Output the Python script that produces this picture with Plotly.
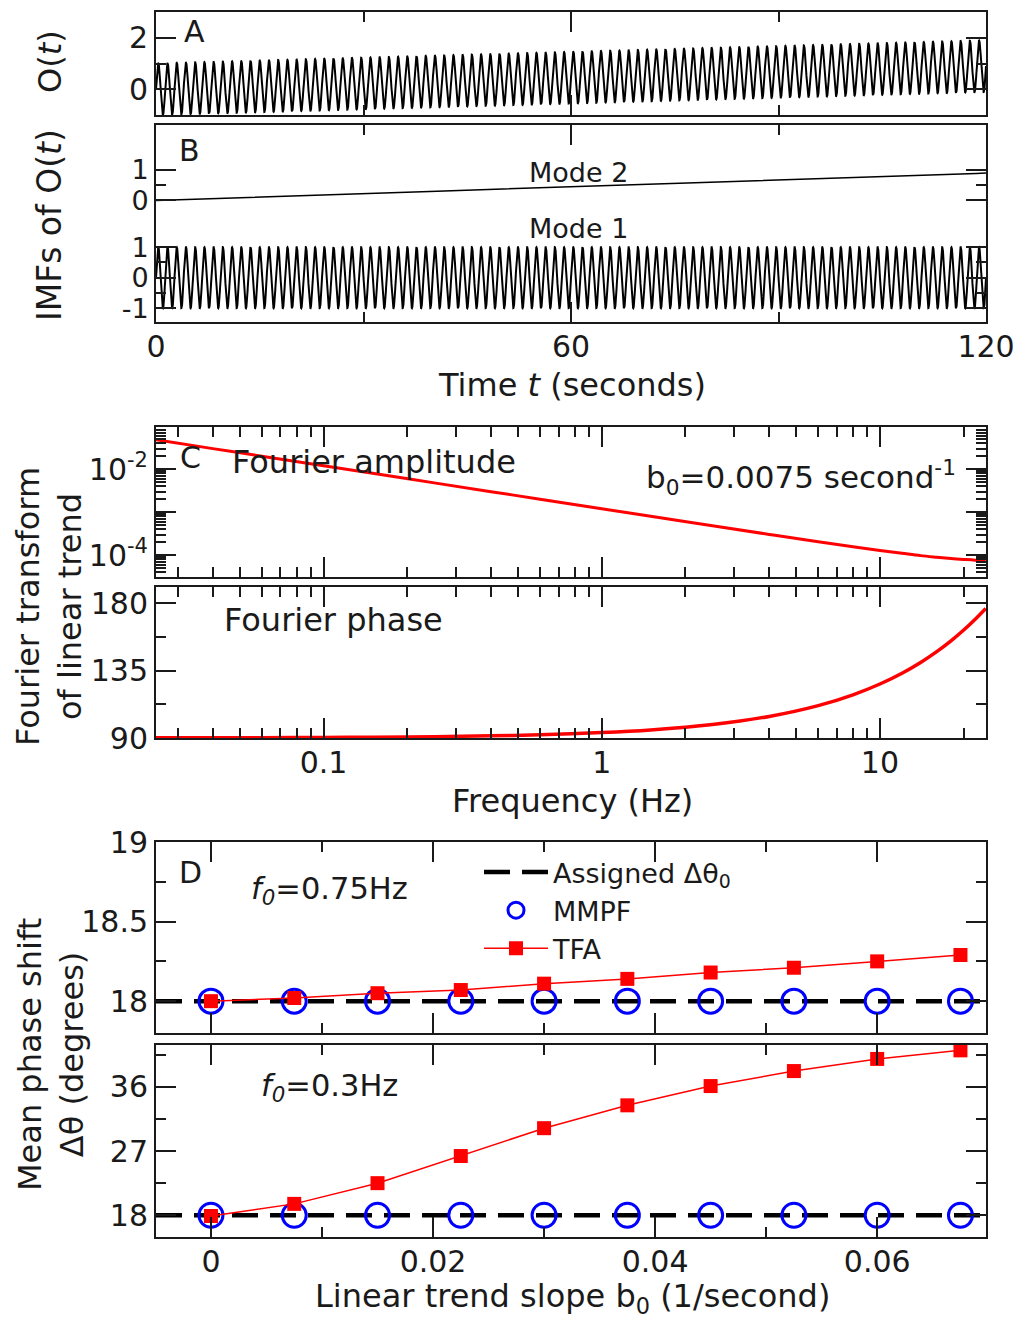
import numpy as np
import plotly.graph_objects as go

# ---------------- data ----------------
# Panels A/B : test signal O(t) = Mode 1 (sinusoid) + Mode 2 (linear trend)
DURATION_S = 120.0
SAMPLE_RATE_HZ = 50.0
MODE1_FREQ_HZ = 0.75
MODE1_AMPLITUDE = 1.0
TREND_SLOPE = 0.0075          # b0, 1/second

# Panel C : Fourier transform of the linear trend
FREQ_HZ = [0.025, 0.04, 0.06, 0.1, 0.15, 0.25, 0.4, 0.6, 1.0, 1.5, 2.5, 4.0,
           6.0, 8.0, 10.0, 12.0, 14.0, 16.0, 18.0, 20.0, 22.0, 24.0]
FOURIER_AMPLITUDE = [0.0477, 0.0298, 0.0199, 0.0119, 0.00796, 0.00477, 0.00298,
                     0.00199, 0.00119, 0.000797, 0.000479, 0.000302, 0.000204,
                     0.000156, 0.000128, 0.000110, 9.7e-5, 8.9e-5, 8.3e-5,
                     7.9e-5, 7.6e-5, 7.5e-5]
FOURIER_PHASE_DEG = [90.09, 90.14, 90.22, 90.36, 90.54, 90.9, 91.44, 92.16, 93.6,
                     95.4, 99.0, 104.4, 111.6, 118.8, 126.0, 133.2, 140.4, 147.6,
                     154.8, 162.0, 169.2, 176.4]

# Panel D : mean phase shift vs trend slope
SLOPES = [0.0, 0.0075, 0.015, 0.0225, 0.03, 0.0375, 0.045, 0.0525, 0.06, 0.0675]
ASSIGNED_DTHETA = 18.0
MMPF_F075 = [18.0, 18.0, 18.0, 18.0, 18.0, 18.0, 18.0, 18.0, 18.0, 18.0]
TFA_F075 = [18.0, 18.02, 18.05, 18.07, 18.11, 18.14, 18.18, 18.21, 18.25, 18.29]
MMPF_F03 = [18.0, 18.0, 18.0, 18.0, 18.0, 18.0, 18.0, 18.0, 18.0, 18.0]
TFA_F03 = [17.9, 19.6, 22.5, 26.3, 30.2, 33.4, 36.1, 38.2, 39.9, 41.1]

# tick labels
TIME_TICKS = [0, 60, 120]
TIME_TICK_TEXT = ["0", "60", "120"]
FREQ_TICKS = [0.1, 1, 10]
FREQ_TICK_TEXT = ["0.1", "1", "10"]
SLOPE_TICKS = [0, 0.02, 0.04, 0.06]
SLOPE_TICK_TEXT = ["0", "0.02", "0.04", "0.06"]

# ---------------- layout helpers ----------------
W, H = 1023, 1323
FONT = "DejaVu Sans"
INK = "#1a1a1a"
X0, X1 = 156, 986
MODE2_OFFSET = 2.54   # vertical offset of Mode 2 in panel B
XSTAND = -3
YSTAND = 0


def px(p):
    return p / W


def py(p):
    return 1 - p / H


def axis(**kw):
    base = dict(showline=True, linecolor=INK, linewidth=2, mirror="allticks",
                ticks="inside", ticklen=20, tickwidth=1.5, tickcolor=INK,
                showgrid=False, zeroline=False, automargin=False,
                tickfont=dict(size=30, family=FONT, color=INK))
    base.update(kw)
    return base


def minor(vals, length=10):
    return dict(ticks="inside", ticklen=length, tickwidth=1.5, tickcolor=INK,
                tickmode="array", tickvals=vals, showgrid=False)


# signal samples
t = np.arange(0.0, DURATION_S + 0.5 / SAMPLE_RATE_HZ, 1.0 / SAMPLE_RATE_HZ)
mode1 = MODE1_AMPLITUDE * np.sin(2 * np.pi * MODE1_FREQ_HZ * t)
mode2 = TREND_SLOPE * t
signal = mode1 + mode2

fig = go.Figure()

# Panel A
fig.add_trace(go.Scatter(x=t, y=signal, mode="lines", line=dict(color="black", width=2),
                         showlegend=False, xaxis="x", yaxis="y"))
# Panel B
fig.add_trace(go.Scatter(x=t, y=mode2 + MODE2_OFFSET, mode="lines",
                         line=dict(color="black", width=1.5),
                         showlegend=False, xaxis="x2", yaxis="y2"))
fig.add_trace(go.Scatter(x=t, y=mode1, mode="lines", line=dict(color="black", width=2),
                         showlegend=False, xaxis="x2", yaxis="y2"))
# Panel C amplitude
fig.add_trace(go.Scatter(x=FREQ_HZ, y=FOURIER_AMPLITUDE, mode="lines",
                         line=dict(color="#ff0000", width=3, shape="spline"),
                         showlegend=False, xaxis="x3", yaxis="y3"))
# Panel C phase
fig.add_trace(go.Scatter(x=FREQ_HZ, y=FOURIER_PHASE_DEG, mode="lines",
                         line=dict(color="#ff0000", width=3.5, shape="spline"),
                         showlegend=False, xaxis="x4", yaxis="y4"))

# Panel D
XR_D = [-0.00495, 0.0698]
for i, (mm, tfa, xa, ya) in enumerate([(MMPF_F075, TFA_F075, "x5", "y5"),
                                       (MMPF_F03, TFA_F03, "x6", "y6")]):
    first = i == 0
    fig.add_trace(go.Scatter(x=XR_D, y=[ASSIGNED_DTHETA, ASSIGNED_DTHETA], mode="lines",
                             line=dict(color="black", width=4.5, dash="26px,12px"),
                             name="Assigned Δθ<sub>0</sub>", showlegend=first,
                             xaxis=xa, yaxis=ya))
    fig.add_trace(go.Scatter(x=SLOPES, y=mm, mode="markers",
                             marker=dict(symbol="circle-open", size=24, color="#0000ff",
                                         line=dict(width=3, color="#0000ff")),
                             name="MMPF", showlegend=first, xaxis=xa, yaxis=ya))
    fig.add_trace(go.Scatter(x=SLOPES, y=tfa, mode="lines+markers",
                             line=dict(color="#ff0000", width=1.5),
                             marker=dict(symbol="square", size=14, color="#ff0000"),
                             name="TFA", showlegend=first, xaxis=xa, yaxis=ya))

xdom = [px(X0), px(X1)]
LOG_MINOR_X = [0.03, 0.04, 0.05, 0.06, 0.07, 0.08, 0.09,
               0.2, 0.3, 0.4, 0.5, 0.6, 0.7, 0.8, 0.9,
               2, 3, 4, 5, 6, 7, 8, 9, 20]
layout = dict(
    template="none",
    width=W, height=H, autosize=False, margin=dict(l=0, r=0, t=0, b=0, pad=0),
    paper_bgcolor="white", plot_bgcolor="white",
    font=dict(family=FONT, size=30, color=INK),
    showlegend=True,
    legend=dict(x=px(479), y=py(848), xanchor="left", yanchor="top",
                bgcolor="rgba(0,0,0,0)", font=dict(size=27, family=FONT, color=INK),
                itemwidth=64, tracegroupgap=0, borderwidth=0),
    # A
    xaxis=axis(domain=xdom, anchor="y", range=[0, 120], tickvals=TIME_TICKS,
               showticklabels=False, minor=minor([30, 90])),
    yaxis=axis(domain=[py(115), py(12)], anchor="x", range=[-1, 3], tickvals=[0, 2],
               ticktext=["0", "2"], minor=minor([1]), ticklabelstandoff=YSTAND),
    # B
    xaxis2=axis(domain=xdom, anchor="y2", range=[0, 120], tickvals=TIME_TICKS,
                ticktext=TIME_TICK_TEXT, minor=minor([30, 90]), ticklabelstandoff=XSTAND),
    yaxis2=axis(domain=[py(322), py(125)], anchor="x2", range=[-1.457, 5.02],
                tickvals=[-1, 0, 1, MODE2_OFFSET, MODE2_OFFSET + 1],
                ticktext=["-1", "0", "1", "0", "1"],
                tickfont=dict(size=27, family=FONT, color=INK),
                minor=minor([-0.5, 0.5, MODE2_OFFSET + 0.5]), ticklabelstandoff=YSTAND),
    # C amplitude
    xaxis3=axis(domain=xdom, anchor="y3", type="log",
                range=[np.log10(0.025), np.log10(24.05)], tickvals=FREQ_TICKS,
                showticklabels=False, minor=minor(LOG_MINOR_X)),
    yaxis3=axis(domain=[py(577), py(427)], anchor="x3", type="log",
                range=[-4.51, -1.023], tickvals=[1e-4, 1e-3, 1e-2],
                ticktext=["10<sup>-4</sup>", " ", "10<sup>-2</sup>"],
                minor=minor([k * 10.0 ** e for e in (-5, -4, -3, -2) for k in range(2, 10)]),
                ticklabelstandoff=YSTAND),
    # C phase
    xaxis4=axis(domain=xdom, anchor="y4", type="log",
                range=[np.log10(0.025), np.log10(24.05)], tickvals=FREQ_TICKS,
                ticktext=FREQ_TICK_TEXT, ticklabelstandoff=XSTAND, minor=minor(LOG_MINOR_X)),
    yaxis4=axis(domain=[py(738), py(587)], anchor="x4", range=[90, 190.7],
                tickvals=[90, 135, 180], ticktext=["90", "135", "180"],
                minor=minor([112.5, 157.5]), ticklabelstandoff=YSTAND),
    # D top
    xaxis5=axis(domain=xdom, anchor="y5", range=XR_D, tickvals=SLOPE_TICKS,
                showticklabels=False, minor=minor([0.01, 0.03, 0.05])),
    yaxis5=axis(domain=[py(1033), py(842)], anchor="x5", range=[17.80, 19.0],
                tickvals=[18, 18.5, 19], ticktext=["18", "18.5", "19"],
                minor=minor([18.25, 18.75]), ticklabelstandoff=YSTAND),
    # D bottom
    xaxis6=axis(domain=xdom, anchor="y6", range=XR_D, tickvals=SLOPE_TICKS,
                ticktext=SLOPE_TICK_TEXT, minor=minor([0.01, 0.03, 0.05]),
                ticklabelstandoff=XSTAND),
    yaxis6=axis(domain=[py(1237), py(1045)], anchor="x6", range=[14.96, 41.85],
                tickvals=[18, 27, 36], ticktext=["18", "27", "36"],
                minor=minor([22.5, 31.5, 40.5]), ticklabelstandoff=YSTAND),
)
fig.update_layout(**layout)


def note(text, x, y, size=30, xanchor="center", yanchor="middle", angle=0):
    fig.add_annotation(text=text, x=px(x), y=py(y), xref="paper", yref="paper",
                       xanchor=xanchor, yanchor=yanchor, showarrow=False,
                       textangle=angle, font=dict(size=size, family=FONT, color=INK))


# panel letters and labels
note("A", 194, 31)
note("B", 189, 151)
note("Mode 2", 578, 172, size=27)
note("Mode 1", 578, 229, size=27)
note("C", 190, 458)
note("Fourier amplitude", 230, 462, size=32, xanchor="left")
note("b<sub>0</sub>=0.0075 second<sup>-1</sup>", 958, 478, size=31, xanchor="right")
note("Fourier phase", 222, 620, size=32, xanchor="left")
note("D", 190, 873)
note("<i>f</i><sub><i>0</i></sub>=0.75Hz", 249, 890, size=30.5, xanchor="left")
note("<i>f</i><sub><i>0</i></sub>=0.3Hz", 259, 1087, size=30.5, xanchor="left")

# axis titles
note("O(<i>t</i>)", 50, 62, size=32, angle=-90)
note("IMFs of O(<i>t</i>)", 50, 225, size=33, angle=-90)
note("Time <i>t</i> (seconds)", 572, 385, size=32)
note("Fourier transform<br>of linear trend", 49, 607, size=32, angle=-90)
note("Frequency (Hz)", 572, 801, size=32)
note("Mean phase shift<br>Δθ (degrees)", 51, 1055, size=32, angle=-90)
note("Linear trend slope b<sub>0</sub> (1/second)", 572, 1298, size=32)

fig.write_html(
    "out.html",
    config={"responsive": False, "displayModeBar": False},
    default_width="1023px",
    default_height="1323px",
    post_script="document.body.style.margin='0';document.body.style.padding='0';"
                "document.body.style.overflow='hidden';"
                "document.documentElement.style.overflow='hidden';",
)
